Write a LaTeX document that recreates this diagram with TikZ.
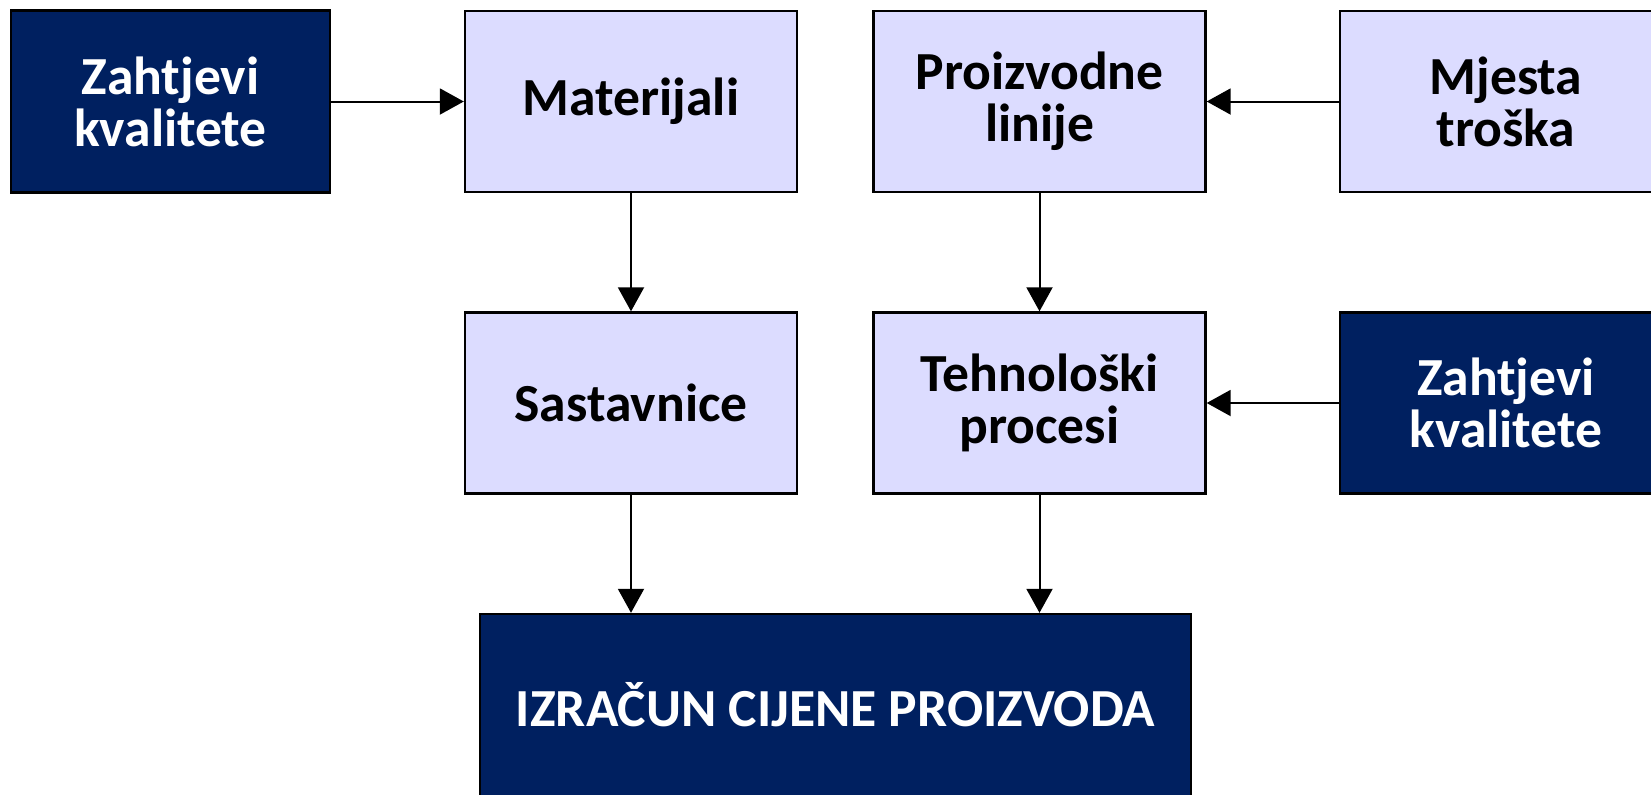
\documentclass[tikz,border=0pt]{standalone}
\usepackage{fontspec}
\setmainfont{Carlito}
\usetikzlibrary{arrows.meta}
\definecolor{tamna}{RGB}{0,32,96}
\definecolor{svijetla}{RGB}{220,220,255}
\begin{document}
\begin{tikzpicture}[x=0.5pt,y=-0.5pt,
    kutija/.style={draw=black,line width=1.2pt,rectangle,inner sep=0pt,
      align=center,font=\fontsize{26.8}{26}\selectfont\bfseries},
    svijetli/.style={kutija,fill=svijetla,text=black,minimum width=166pt,minimum height=90.5pt},
    tamni/.style={kutija,fill=tamna,text=white},
    strel/.style={-{Triangle[length=12pt,width=13pt]},line width=1pt}]
   \useasboundingbox (0,0) rectangle (1651,794);
   % gornji red
   \node[tamni,minimum width=159.5pt,minimum height=91pt] (zk1) at (170.5,101.5) {Zahtjevi\\kvalitete};
   \node[svijetli] (mat) at (631,101.5) {Materijali};
   \node[svijetli] (pl) at (1039.5,101.5) {Proizvodne\\linije};
   \node[svijetli] (mt) at (1506,101.5) {Mjesta\\troška};
   % srednji red
   \node[svijetli] (sas) at (631,403) {Sastavnice};
   \node[svijetli] (tp) at (1039.5,403) {Tehnološki\\procesi};
   \node[tamni,minimum width=166pt,minimum height=90.5pt] (zk2) at (1506,403) {Zahtjevi\\kvalitete};
   % donji
   \node[tamni,minimum width=355.5pt,minimum height=91pt] (cijena) at (835.5,705) {IZRAČUN CIJENE PROIZVODA};
   \draw[strel] (zk1) -- (mat);
   \draw[strel] (mt) -- (pl);
   \draw[strel] (mat) -- (sas);
   \draw[strel] (pl) -- (tp);
   \draw[strel] (zk2) -- (tp);
   \draw[strel] (sas.south) -- (sas.south |- cijena.north);
   \draw[strel] (tp.south) -- (tp.south |- cijena.north);
\end{tikzpicture}
\end{document}
